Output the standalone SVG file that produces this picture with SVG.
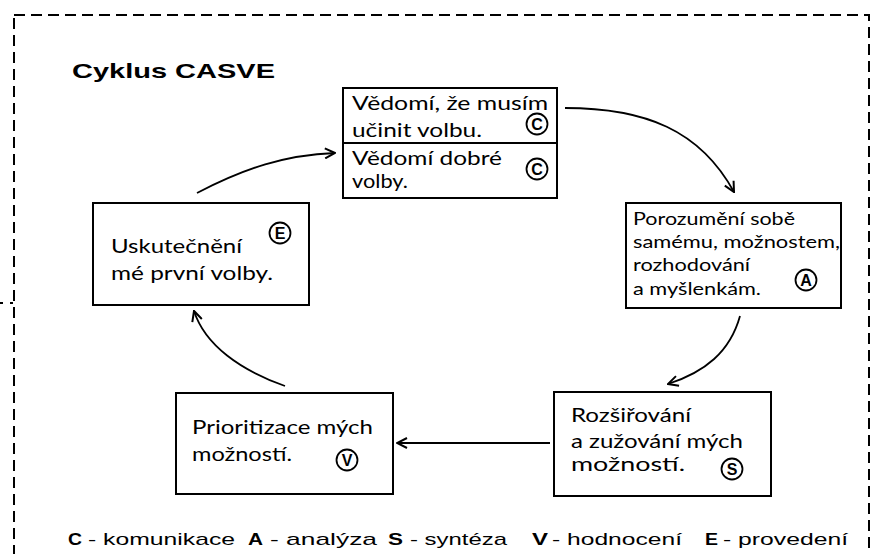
<svg xmlns="http://www.w3.org/2000/svg" width="876" height="554" viewBox="0 0 876 554">
<style>
.box{fill:#fff;stroke:#000;stroke-width:2}
.t{font-family:Lato,"Open Sans","DejaVu Sans",sans-serif;font-size:20px;fill:#000}
.ts{font-family:Lato,"Open Sans","DejaVu Sans",sans-serif;font-size:18px;fill:#000}
.badge{fill:#fff;stroke:#000;stroke-width:1.8}
.bl{font-family:"Liberation Sans",Arial,sans-serif;font-size:16px;font-weight:bold;fill:#000;text-anchor:middle}
.conn{fill:none;stroke:#000;stroke-width:1.8}
.leg{font-family:"Liberation Sans",Arial,sans-serif;font-size:17px;fill:#000}
.legb{font-family:"Liberation Sans",Arial,sans-serif;font-size:17px;font-weight:bold;fill:#000}
</style>
<defs>
<marker id="arr" viewBox="0 0 12 12" refX="11" refY="6" markerWidth="12" markerHeight="12" markerUnits="userSpaceOnUse" orient="auto">
<path d="M1,1 L11,6 L1,11" fill="none" stroke="#000" stroke-width="2"/>
</marker>
</defs>
<rect x="0" y="0" width="876" height="554" fill="#fff"/>
<rect x="14" y="15" width="855" height="580" fill="none" stroke="#000" stroke-width="2" stroke-dasharray="11 6"/>
<line x1="0" y1="303" x2="14" y2="303" stroke="#000" stroke-width="2" stroke-dasharray="3 7"/>
<text x="72" y="78" font-family="'Liberation Sans',Arial,sans-serif" font-size="21" font-weight="bold" textLength="203" lengthAdjust="spacingAndGlyphs">Cyklus CASVE</text>

<g id="connectors">
<path class="conn" d="M565,108 C645,108 700,130 734,192" marker-end="url(#arr)"/>
<path class="conn" d="M740,316 C730,352 705,372 668,384" marker-end="url(#arr)"/>
<path class="conn" d="M550,443 L397,443" marker-end="url(#arr)"/>
<path class="conn" d="M285,386 C240,370 205,345 194,311" marker-end="url(#arr)"/>
<path class="conn" d="M197,193 C245,168 285,155 335,153" marker-end="url(#arr)"/>
</g>

<g id="node-c">
<rect class="box" x="343" y="88" width="214" height="110"/>
<line x1="343" y1="143" x2="557" y2="143" stroke="#000" stroke-width="2"/>
<text class="t" x="352" y="110" textLength="196" lengthAdjust="spacingAndGlyphs">Vědomí, že musím</text>
<text class="t" x="352" y="137" textLength="130" lengthAdjust="spacingAndGlyphs">učinit volbu.</text>
<text class="t" x="352" y="165" textLength="150" lengthAdjust="spacingAndGlyphs">Vědomí dobré</text>
<text class="t" x="352" y="188" textLength="56" lengthAdjust="spacingAndGlyphs">volby.</text>
<circle class="badge" cx="537" cy="124" r="10.5"/>
<text class="bl" x="537" y="130">C</text>
<circle class="badge" cx="537" cy="169" r="10.5"/>
<text class="bl" x="537" y="175">C</text>
</g>

<g id="node-a">
<rect class="box" x="626" y="203" width="215" height="105"/>
<text class="ts" x="633" y="225" textLength="162" lengthAdjust="spacingAndGlyphs">Porozumění sobě</text>
<text class="ts" x="633" y="248" textLength="207" lengthAdjust="spacingAndGlyphs">samému, možnostem,</text>
<text class="ts" x="633" y="271" textLength="117" lengthAdjust="spacingAndGlyphs">rozhodování</text>
<text class="ts" x="633" y="295" textLength="128" lengthAdjust="spacingAndGlyphs">a myšlenkám.</text>
<circle class="badge" cx="806" cy="280" r="10.5"/>
<text class="bl" x="806" y="286">A</text>
</g>

<g id="node-s">
<rect class="box" x="554" y="392" width="217" height="104"/>
<text class="t" x="571" y="422" textLength="120" lengthAdjust="spacingAndGlyphs">Rozšiřování</text>
<text class="t" x="571" y="448" textLength="172" lengthAdjust="spacingAndGlyphs">a zužování mých</text>
<text class="t" x="571" y="471" textLength="114" lengthAdjust="spacingAndGlyphs">možností.</text>
<circle class="badge" cx="732" cy="469" r="10.5"/>
<text class="bl" x="732" y="475">S</text>
</g>

<g id="node-v">
<rect class="box" x="176" y="393" width="217" height="101"/>
<text class="t" x="192" y="434" textLength="181" lengthAdjust="spacingAndGlyphs">Prioritizace mých</text>
<text class="t" x="192" y="461" textLength="100" lengthAdjust="spacingAndGlyphs">možností.</text>
<circle class="badge" cx="347" cy="460" r="10.5"/>
<text class="bl" x="347" y="466">V</text>
</g>

<g id="node-e">
<rect class="box" x="93" y="203" width="216" height="102"/>
<text class="t" x="111" y="253" textLength="131" lengthAdjust="spacingAndGlyphs">Uskutečnění</text>
<text class="t" x="111" y="280" textLength="162" lengthAdjust="spacingAndGlyphs">mé první volby.</text>
<circle class="badge" cx="280" cy="233" r="10.5"/>
<text class="bl" x="280" y="239">E</text>
</g>

<g id="legend">
<text class="legb" x="68" y="545" textLength="14" lengthAdjust="spacingAndGlyphs">C</text>
<text class="leg" x="88" y="545" textLength="147" lengthAdjust="spacingAndGlyphs">- komunikace</text>
<text class="legb" x="248" y="545" textLength="15" lengthAdjust="spacingAndGlyphs">A</text>
<text class="leg" x="270" y="545" textLength="107" lengthAdjust="spacingAndGlyphs">- analýza</text>
<text class="legb" x="388" y="545" textLength="15" lengthAdjust="spacingAndGlyphs">S</text>
<text class="leg" x="410" y="545" textLength="97" lengthAdjust="spacingAndGlyphs">- syntéza</text>
<text class="legb" x="532" y="545" textLength="16" lengthAdjust="spacingAndGlyphs">V</text>
<text class="leg" x="552" y="545" textLength="130" lengthAdjust="spacingAndGlyphs">- hodnocení</text>
<text class="legb" x="705" y="545" textLength="13" lengthAdjust="spacingAndGlyphs">E</text>
<text class="leg" x="723" y="545" textLength="125" lengthAdjust="spacingAndGlyphs">- provedení</text>
</g>
</svg>
